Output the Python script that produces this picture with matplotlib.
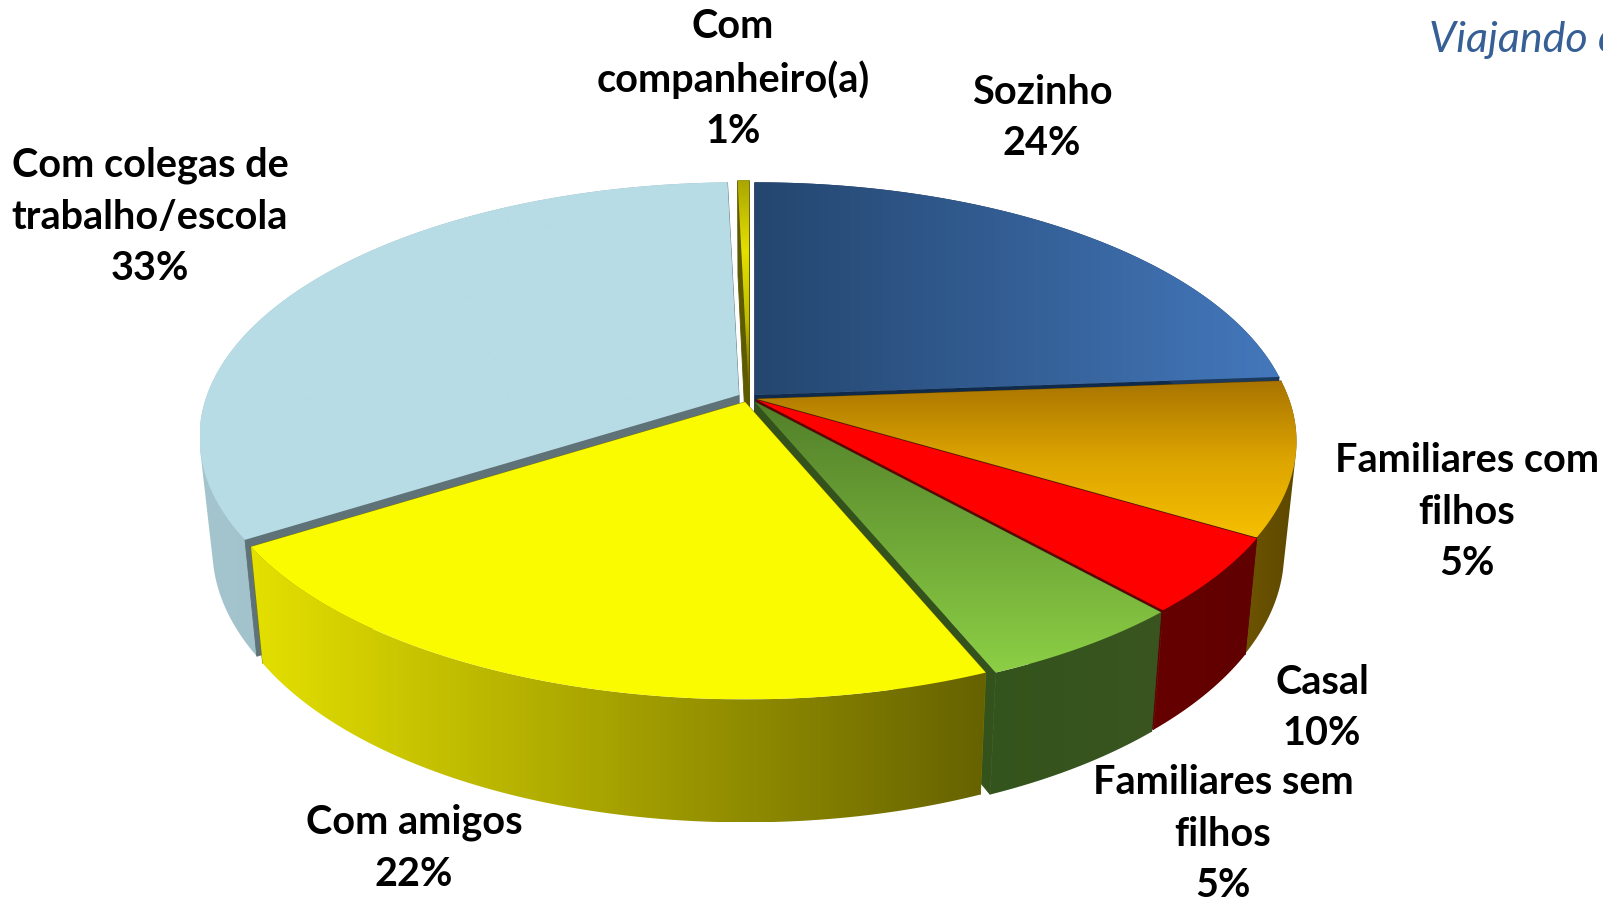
import numpy as np
import matplotlib
matplotlib.use('Agg')
import matplotlib.pyplot as plt
from matplotlib.colors import LinearSegmentedColormap
from matplotlib.patches import Polygon

# slice sizes as measured on the drawn pie, the printed percentages differ
slice_names = ['Sozinho', 'Familiares com\nfilhos', 'Casal', 'Familiares sem\nfilhos',
               'Com amigos', 'Com colegas de\ntrabalho/escola', 'Com\ncompanheiro(a)']
slice_values = [23.8, 9.7, 4.8, 5.4, 22.3, 33.5, 0.4]
printed_pct = ['24%', '5%', '10%', '5%', '22%', '33%', '1%']

# top gradient, outer wall gradient, cut wall colour
top_colors = [['#24466f', '#4478bc'], ['#a87400', '#dca400', '#f5bf00'], ['#ff0000', '#ff0000'],
              ['#527f2a', '#8ccf45'], ['#fbfb00', '#fbfb00'], ['#b7dce5', '#b7dce5'],
              ['#aaa600', '#e4e000', '#c0bc00', '#5e5a00']]
top_vertical = [False, True, True, True, True, True, True]
wall_colors = [['#1c3a5e', '#1c3a5e'], ['#6e5400', '#5c4800'], ['#660000', '#600000'],
               ['#33541c', '#3a5520'], ['#e4e000', '#666200'], ['#a5c5ce', '#93b5bf'],
               ['#5e5a00', '#5e5a00']]
cut_colors = ['#0f2a4a', '#5a4000', '#600000', '#33521c', '#7a7700', '#5e7278', '#5e5a00']
# shift of each slice from the pie centre, pixels
shifts = [(-2, -4), (0, 0), (0, 1), (-2, 3), (-12, 3), (-18, -4), (-8, -6)]
draw_order = [5, 6, 0, 1, 2, 3, 4]
# slices that reach the widest points of the pie
side_slices = [1, 5]

label_pos = [(1042, 118), (1467, 512), (1322, 708), (1223, 834), (414, 848), (150, 217), (733, 79)]

CX, CY = 757, 399
RX, RY, PERSP = 532, 248, 0.166

fig = plt.figure(figsize=(16.03, 8.99), dpi=100)
ax = fig.add_axes([0, 0, 1, 1])
ax.set_axis_off()


def top_xy(angle, shift):
    X, Y = np.sin(angle), np.cos(angle)
    w = 1 + PERSP * Y
    return CX + RX * X / w + shift[0], CY - RY * Y / w + shift[1]


def bottom_xy(angle, shift):
    x, y = top_xy(angle, shift)
    return CX + (x - CX) * 0.977, y + 109 - 14 * np.cos(angle)


def hull(points):
    # convex outline, so the wall meets the top edge at the pie's sides
    pts = sorted(set(points))

    def half(seq):
        out = []
        for p in seq:
            while len(out) > 1 and ((out[-1][0] - out[-2][0]) * (p[1] - out[-2][1])
                                    - (out[-1][1] - out[-2][1]) * (p[0] - out[-2][0])) <= 0:
                out.pop()
            out.append(p)
        return out[:-1]

    return half(pts) + half(pts[::-1])


def gradient_poly(points, stops, vertical, z):
    # gradient image clipped to the polygon
    points = np.array(points)
    xmin, ymin = points.min(axis=0)
    xmax, ymax = points.max(axis=0)
    cmap = LinearSegmentedColormap.from_list('grad', stops)
    ramp = np.linspace(0, 1, 256)
    data = ramp.reshape(-1, 1) if vertical else ramp.reshape(1, -1)
    im = ax.imshow(data, cmap=cmap, vmin=0, vmax=1, aspect='auto',
                   extent=(xmin, xmax, ymax, ymin), zorder=z)
    patch = Polygon(points, closed=True, fc='none', ec='none', zorder=z)
    ax.add_patch(patch)
    im.set_clip_path(patch)


edges = np.cumsum([0] + slice_values) / sum(slice_values) * 2 * np.pi
z = 1
for i in draw_order:
    shift = shifts[i]
    angles = np.linspace(edges[i], edges[i + 1], 120)
    tx, ty = top_xy(angles, shift)
    bx, by = bottom_xy(angles, shift)
    apex = (CX + shift[0], CY + shift[1])
    apex_low = (CX + (apex[0] - CX) * 0.977, apex[1] + 109)

    # cut faces go over the wall only for the side slices, their wall is a hull
    wall_z = z + 1 if i not in side_slices else z
    cut_z = z if i not in side_slices else z + 1
    for j in (0, -1):
        ax.add_patch(Polygon([apex, (tx[j], ty[j]), (bx[j], by[j]), apex_low], closed=True,
                             fc=cut_colors[i], ec=cut_colors[i], lw=0.6, zorder=cut_z))

    # outer wall
    if i in side_slices:
        wall = hull([(float(a), float(b)) for a, b in zip(tx, ty)]
                    + [(float(a), float(b)) for a, b in zip(bx, by)])
    else:
        wall = list(zip(tx, ty)) + list(zip(bx[::-1], by[::-1]))
    gradient_poly(wall, wall_colors[i], False, wall_z)
    z += 2

    # top face
    top = [apex] + list(zip(tx, ty))
    gradient_poly(top, top_colors[i], top_vertical[i], z)
    z += 1

for name, pct, pos in zip(slice_names, printed_pct, label_pos):
    ax.text(pos[0], pos[1], name + '\n' + pct, ha='center', va='center', family='Lato',
            fontweight='bold', fontsize=28.5, color='black', linespacing=1.49, zorder=z)

ax.text(1429, 40, 'Viajando c', ha='left', va='center', family='Lato', style='italic',
        fontsize=31, color='#365f96', zorder=z)

ax.set_xlim(0, 1603)
ax.set_ylim(899, 0)
fig.savefig('out.png', dpi=100)
